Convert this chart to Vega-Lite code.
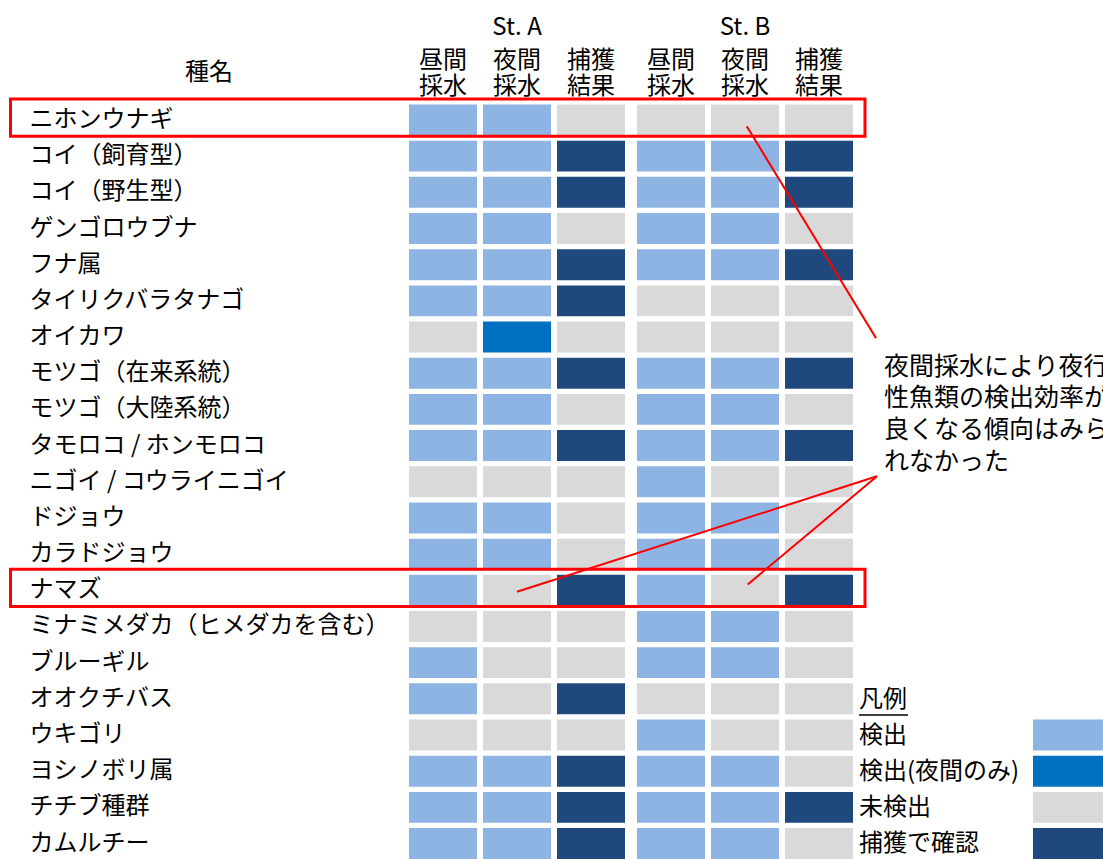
{
  "$schema": "https://vega.github.io/schema/vega-lite/v6.json",
  "autosize": {"type": "none"},
  "padding": {"left": 409, "top": 104.5, "right": 250, "bottom": 0},
  "width": 444,
  "height": 754.5,
  "background": "white",
  "config": {
    "view": {"stroke": null},
    "font": "Noto Sans CJK JP",
    "text": {"font": "Noto Sans CJK JP", "color": "#000000"}
  },
  "layer": [
    {
      "data": {"values": [
        {"species": "ニホンウナギ", "station": "St. A", "昼間採水": "検出", "夜間採水": "検出", "捕獲結果": "未検出"},
        {"species": "ニホンウナギ", "station": "St. B", "昼間採水": "未検出", "夜間採水": "未検出", "捕獲結果": "未検出"},
        {"species": "コイ（飼育型）", "station": "St. A", "昼間採水": "検出", "夜間採水": "検出", "捕獲結果": "捕獲で確認"},
        {"species": "コイ（飼育型）", "station": "St. B", "昼間採水": "検出", "夜間採水": "検出", "捕獲結果": "捕獲で確認"},
        {"species": "コイ（野生型）", "station": "St. A", "昼間採水": "検出", "夜間採水": "検出", "捕獲結果": "捕獲で確認"},
        {"species": "コイ（野生型）", "station": "St. B", "昼間採水": "検出", "夜間採水": "検出", "捕獲結果": "捕獲で確認"},
        {"species": "ゲンゴロウブナ", "station": "St. A", "昼間採水": "検出", "夜間採水": "検出", "捕獲結果": "未検出"},
        {"species": "ゲンゴロウブナ", "station": "St. B", "昼間採水": "検出", "夜間採水": "検出", "捕獲結果": "未検出"},
        {"species": "フナ属", "station": "St. A", "昼間採水": "検出", "夜間採水": "検出", "捕獲結果": "捕獲で確認"},
        {"species": "フナ属", "station": "St. B", "昼間採水": "検出", "夜間採水": "検出", "捕獲結果": "捕獲で確認"},
        {"species": "タイリクバラタナゴ", "station": "St. A", "昼間採水": "検出", "夜間採水": "検出", "捕獲結果": "捕獲で確認"},
        {"species": "タイリクバラタナゴ", "station": "St. B", "昼間採水": "未検出", "夜間採水": "未検出", "捕獲結果": "未検出"},
        {"species": "オイカワ", "station": "St. A", "昼間採水": "未検出", "夜間採水": "検出(夜間のみ)", "捕獲結果": "未検出"},
        {"species": "オイカワ", "station": "St. B", "昼間採水": "未検出", "夜間採水": "未検出", "捕獲結果": "未検出"},
        {"species": "モツゴ（在来系統）", "station": "St. A", "昼間採水": "検出", "夜間採水": "検出", "捕獲結果": "捕獲で確認"},
        {"species": "モツゴ（在来系統）", "station": "St. B", "昼間採水": "検出", "夜間採水": "検出", "捕獲結果": "捕獲で確認"},
        {"species": "モツゴ（大陸系統）", "station": "St. A", "昼間採水": "検出", "夜間採水": "検出", "捕獲結果": "未検出"},
        {"species": "モツゴ（大陸系統）", "station": "St. B", "昼間採水": "検出", "夜間採水": "検出", "捕獲結果": "未検出"},
        {"species": "タモロコ / ホンモロコ", "station": "St. A", "昼間採水": "検出", "夜間採水": "検出", "捕獲結果": "捕獲で確認"},
        {"species": "タモロコ / ホンモロコ", "station": "St. B", "昼間採水": "検出", "夜間採水": "検出", "捕獲結果": "捕獲で確認"},
        {"species": "ニゴイ / コウライニゴイ", "station": "St. A", "昼間採水": "未検出", "夜間採水": "未検出", "捕獲結果": "未検出"},
        {"species": "ニゴイ / コウライニゴイ", "station": "St. B", "昼間採水": "検出", "夜間採水": "未検出", "捕獲結果": "未検出"},
        {"species": "ドジョウ", "station": "St. A", "昼間採水": "検出", "夜間採水": "検出", "捕獲結果": "未検出"},
        {"species": "ドジョウ", "station": "St. B", "昼間採水": "検出", "夜間採水": "検出", "捕獲結果": "未検出"},
        {"species": "カラドジョウ", "station": "St. A", "昼間採水": "検出", "夜間採水": "検出", "捕獲結果": "未検出"},
        {"species": "カラドジョウ", "station": "St. B", "昼間採水": "検出", "夜間採水": "検出", "捕獲結果": "未検出"},
        {"species": "ナマズ", "station": "St. A", "昼間採水": "検出", "夜間採水": "未検出", "捕獲結果": "捕獲で確認"},
        {"species": "ナマズ", "station": "St. B", "昼間採水": "検出", "夜間採水": "未検出", "捕獲結果": "捕獲で確認"},
        {"species": "ミナミメダカ（ヒメダカを含む）", "station": "St. A", "昼間採水": "未検出", "夜間採水": "未検出", "捕獲結果": "未検出"},
        {"species": "ミナミメダカ（ヒメダカを含む）", "station": "St. B", "昼間採水": "検出", "夜間採水": "検出", "捕獲結果": "未検出"},
        {"species": "ブルーギル", "station": "St. A", "昼間採水": "検出", "夜間採水": "未検出", "捕獲結果": "未検出"},
        {"species": "ブルーギル", "station": "St. B", "昼間採水": "検出", "夜間採水": "検出", "捕獲結果": "未検出"},
        {"species": "オオクチバス", "station": "St. A", "昼間採水": "検出", "夜間採水": "未検出", "捕獲結果": "捕獲で確認"},
        {"species": "オオクチバス", "station": "St. B", "昼間採水": "未検出", "夜間採水": "未検出", "捕獲結果": "未検出"},
        {"species": "ウキゴリ", "station": "St. A", "昼間採水": "未検出", "夜間採水": "未検出", "捕獲結果": "未検出"},
        {"species": "ウキゴリ", "station": "St. B", "昼間採水": "検出", "夜間採水": "未検出", "捕獲結果": "未検出"},
        {"species": "ヨシノボリ属", "station": "St. A", "昼間採水": "検出", "夜間採水": "検出", "捕獲結果": "捕獲で確認"},
        {"species": "ヨシノボリ属", "station": "St. B", "昼間採水": "検出", "夜間採水": "検出", "捕獲結果": "未検出"},
        {"species": "チチブ種群", "station": "St. A", "昼間採水": "検出", "夜間採水": "検出", "捕獲結果": "捕獲で確認"},
        {"species": "チチブ種群", "station": "St. B", "昼間採水": "検出", "夜間採水": "検出", "捕獲結果": "捕獲で確認"},
        {"species": "カムルチー", "station": "St. A", "昼間採水": "検出", "夜間採水": "検出", "捕獲結果": "捕獲で確認"},
        {"species": "カムルチー", "station": "St. B", "昼間採水": "検出", "夜間採水": "検出", "捕獲結果": "未検出"}
      ]},
      "transform": [{"fold": ["昼間採水", "夜間採水", "捕獲結果"], "as": ["measure", "status"]}],
      "mark": {"type": "rect"},
      "encoding": {
        "x": {"field": "station", "type": "nominal", "sort": null,
          "scale": {"paddingInner": 0.05263, "paddingOuter": 0},
          "axis": {"orient": "top", "title": null, "domain": false, "ticks": false, "tickSize": 0, "grid": false,
            "labelPadding": 65.5, "labelFontSize": 24, "labelFont": "Noto Sans CJK JP", "labelColor": "#000000", "labelAngle": 0}},
        "xOffset": {"field": "measure", "type": "nominal", "sort": null,
          "scale": {"paddingInner": 0.081, "paddingOuter": 0}},
        "y": {"field": "species", "type": "nominal", "sort": null,
          "scale": {"paddingInner": 0.145, "paddingOuter": 0},
          "axis": {"orient": "left", "title": null, "domain": false, "ticks": false, "tickSize": 0, "grid": false,
            "labelPadding": 380, "labelAlign": "left", "labelFontSize": 24, "labelFont": "Noto Sans CJK JP",
            "labelColor": "#000000", "labelLimit": 0}},
        "color": {"field": "status", "type": "nominal",
          "scale": {"domain": ["検出", "検出(夜間のみ)", "未検出", "捕獲で確認"],
                    "range": ["#8EB4E3", "#0070C0", "#D9D9D9", "#1F497D"]},
          "legend": null}
      }
    },
    {
      "data": {"values": [
        {"station": "St. A", "measure": "昼間採水", "label": "昼間\n採水"},
        {"station": "St. A", "measure": "夜間採水", "label": "夜間\n採水"},
        {"station": "St. A", "measure": "捕獲結果", "label": "捕獲\n結果"},
        {"station": "St. B", "measure": "昼間採水", "label": "昼間\n採水"},
        {"station": "St. B", "measure": "夜間採水", "label": "夜間\n採水"},
        {"station": "St. B", "measure": "捕獲結果", "label": "捕獲\n結果"}
      ]},
      "mark": {"type": "text", "fontSize": 24, "align": "center", "baseline": "middle", "lineBreak": "\n", "lineHeight": 26.5, "color": "#000000"},
      "encoding": {
        "x": {"field": "station", "type": "nominal", "sort": null,
          "scale": {"paddingInner": 0.05263, "paddingOuter": 0}, "axis": null},
        "xOffset": {"field": "measure", "type": "nominal", "sort": null,
          "scale": {"type": "point", "padding": 0.4595}},
        "y": {"datum": -1.13, "type": "quantitative",
          "scale": {"domain": [0.0725, 20.9275], "nice": false, "zero": false, "reverse": true}, "axis": null},
        "text": {"field": "label", "type": "nominal"}
      }
    },
    {
      "data": {"values": [{}]},
      "layer": [
        {
          "mark": {"type": "rect", "fillOpacity": 0, "stroke": "#FF0000", "strokeWidth": 3},
          "encoding": {
            "x": {"datum": -5.385, "type": "quantitative", "scale": {"domain": [0, 6], "nice": false, "zero": false}, "axis": null},
            "x2": {"datum": 6.162},
            "y": {"datum": -0.08, "type": "quantitative", "scale": {"domain": [0.0725, 20.9275], "nice": false, "zero": false, "reverse": true}, "axis": null},
            "y2": {"datum": 0.9487}
          }
        },
        {
          "mark": {"type": "rect", "fillOpacity": 0, "stroke": "#FF0000", "strokeWidth": 3},
          "encoding": {
            "x": {"datum": -5.385, "type": "quantitative", "scale": {"domain": [0, 6], "nice": false, "zero": false}, "axis": null},
            "x2": {"datum": 6.162},
            "y": {"datum": 12.92, "type": "quantitative", "scale": {"domain": [0.0725, 20.9275], "nice": false, "zero": false, "reverse": true}, "axis": null},
            "y2": {"datum": 13.9487}
          }
        },
        {
          "mark": {"type": "rule", "color": "#FF0000", "strokeWidth": 2},
          "encoding": {
            "x": {"datum": 4.564, "type": "quantitative", "scale": {"domain": [0, 6], "nice": false, "zero": false}, "axis": null},
            "x2": {"datum": 6.311},
            "y": {"datum": 0.672, "type": "quantitative", "scale": {"domain": [0.0725, 20.9275], "nice": false, "zero": false, "reverse": true}, "axis": null},
            "y2": {"datum": 6.53}
          }
        },
        {
          "mark": {"type": "rule", "color": "#FF0000", "strokeWidth": 2},
          "encoding": {
            "x": {"datum": 1.459, "type": "quantitative", "scale": {"domain": [0, 6], "nice": false, "zero": false}, "axis": null},
            "x2": {"datum": 6.324},
            "y": {"datum": 13.542, "type": "quantitative", "scale": {"domain": [0.0725, 20.9275], "nice": false, "zero": false, "reverse": true}, "axis": null},
            "y2": {"datum": 10.349}
          }
        },
        {
          "mark": {"type": "rule", "color": "#FF0000", "strokeWidth": 2},
          "encoding": {
            "x": {"datum": 4.577, "type": "quantitative", "scale": {"domain": [0, 6], "nice": false, "zero": false}, "axis": null},
            "x2": {"datum": 6.324},
            "y": {"datum": 13.34, "type": "quantitative", "scale": {"domain": [0.0725, 20.9275], "nice": false, "zero": false, "reverse": true}, "axis": null},
            "y2": {"datum": 10.349}
          }
        },
        {
          "mark": {"type": "text", "fontSize": 25, "align": "left", "baseline": "alphabetic", "lineHeight": 31.7, "color": "#000000"},
          "encoding": {
            "x": {"datum": 6.419, "type": "quantitative", "scale": {"domain": [0, 6], "nice": false, "zero": false}, "axis": null},
            "y": {"datum": 7.536, "type": "quantitative", "scale": {"domain": [0.0725, 20.9275], "nice": false, "zero": false, "reverse": true}, "axis": null},
            "text": {"value": ["夜間採水により夜行", "性魚類の検出効率が", "良くなる傾向はみら", "れなかった"]}
          }
        },
        {
          "mark": {"type": "text", "fontSize": 24, "align": "center", "baseline": "middle", "color": "#000000"},
          "encoding": {
            "x": {"datum": -2.703, "type": "quantitative", "scale": {"domain": [0, 6], "nice": false, "zero": false}, "axis": null},
            "y": {"datum": -0.801, "type": "quantitative", "scale": {"domain": [0.0725, 20.9275], "nice": false, "zero": false, "reverse": true}, "axis": null},
            "text": {"value": "種名"}
          }
        },
        {
          "mark": {"type": "text", "fontSize": 24, "align": "left", "baseline": "alphabetic", "lineHeight": 36.2, "color": "#000000"},
          "encoding": {
            "x": {"datum": 6.081, "type": "quantitative", "scale": {"domain": [0, 6], "nice": false, "zero": false}, "axis": null},
            "y": {"datum": 16.715, "type": "quantitative", "scale": {"domain": [0.0725, 20.9275], "nice": false, "zero": false, "reverse": true}, "axis": null},
            "text": {"value": ["凡例", "検出", "検出(夜間のみ)", "未検出", "捕獲で確認"]}
          }
        },
        {
          "mark": {"type": "rule", "color": "#000000", "strokeWidth": 1.5},
          "encoding": {
            "x": {"datum": 6.081, "type": "quantitative", "scale": {"domain": [0, 6], "nice": false, "zero": false}, "axis": null},
            "x2": {"datum": 6.743},
            "y": {"datum": 16.945, "type": "quantitative", "scale": {"domain": [0.0725, 20.9275], "nice": false, "zero": false, "reverse": true}, "axis": null}
          }
        },
        {
          "mark": {"type": "rect"},
          "encoding": {
            "x": {"datum": 8.432, "type": "quantitative", "scale": {"domain": [0, 6], "nice": false, "zero": false}, "axis": null},
            "x2": {"datum": 9.7},
            "y": {"datum": 17.0725, "type": "quantitative", "scale": {"domain": [0.0725, 20.9275], "nice": false, "zero": false, "reverse": true}, "axis": null},
            "y2": {"datum": 17.9275},
            "color": {"datum": "検出", "type": "nominal", "legend": null}
          }
        },
        {
          "mark": {"type": "rect"},
          "encoding": {
            "x": {"datum": 8.432, "type": "quantitative", "scale": {"domain": [0, 6], "nice": false, "zero": false}, "axis": null},
            "x2": {"datum": 9.7},
            "y": {"datum": 18.0725, "type": "quantitative", "scale": {"domain": [0.0725, 20.9275], "nice": false, "zero": false, "reverse": true}, "axis": null},
            "y2": {"datum": 18.9275},
            "color": {"datum": "検出(夜間のみ)", "type": "nominal", "legend": null}
          }
        },
        {
          "mark": {"type": "rect"},
          "encoding": {
            "x": {"datum": 8.432, "type": "quantitative", "scale": {"domain": [0, 6], "nice": false, "zero": false}, "axis": null},
            "x2": {"datum": 9.7},
            "y": {"datum": 19.0725, "type": "quantitative", "scale": {"domain": [0.0725, 20.9275], "nice": false, "zero": false, "reverse": true}, "axis": null},
            "y2": {"datum": 19.9275},
            "color": {"datum": "未検出", "type": "nominal", "legend": null}
          }
        },
        {
          "mark": {"type": "rect"},
          "encoding": {
            "x": {"datum": 8.432, "type": "quantitative", "scale": {"domain": [0, 6], "nice": false, "zero": false}, "axis": null},
            "x2": {"datum": 9.7},
            "y": {"datum": 20.0725, "type": "quantitative", "scale": {"domain": [0.0725, 20.9275], "nice": false, "zero": false, "reverse": true}, "axis": null},
            "y2": {"datum": 20.9275},
            "color": {"datum": "捕獲で確認", "type": "nominal", "legend": null}
          }
        }
      ]
    }
  ],
  "resolve": {"scale": {"x": "independent", "y": "independent", "xOffset": "independent"}}
}
